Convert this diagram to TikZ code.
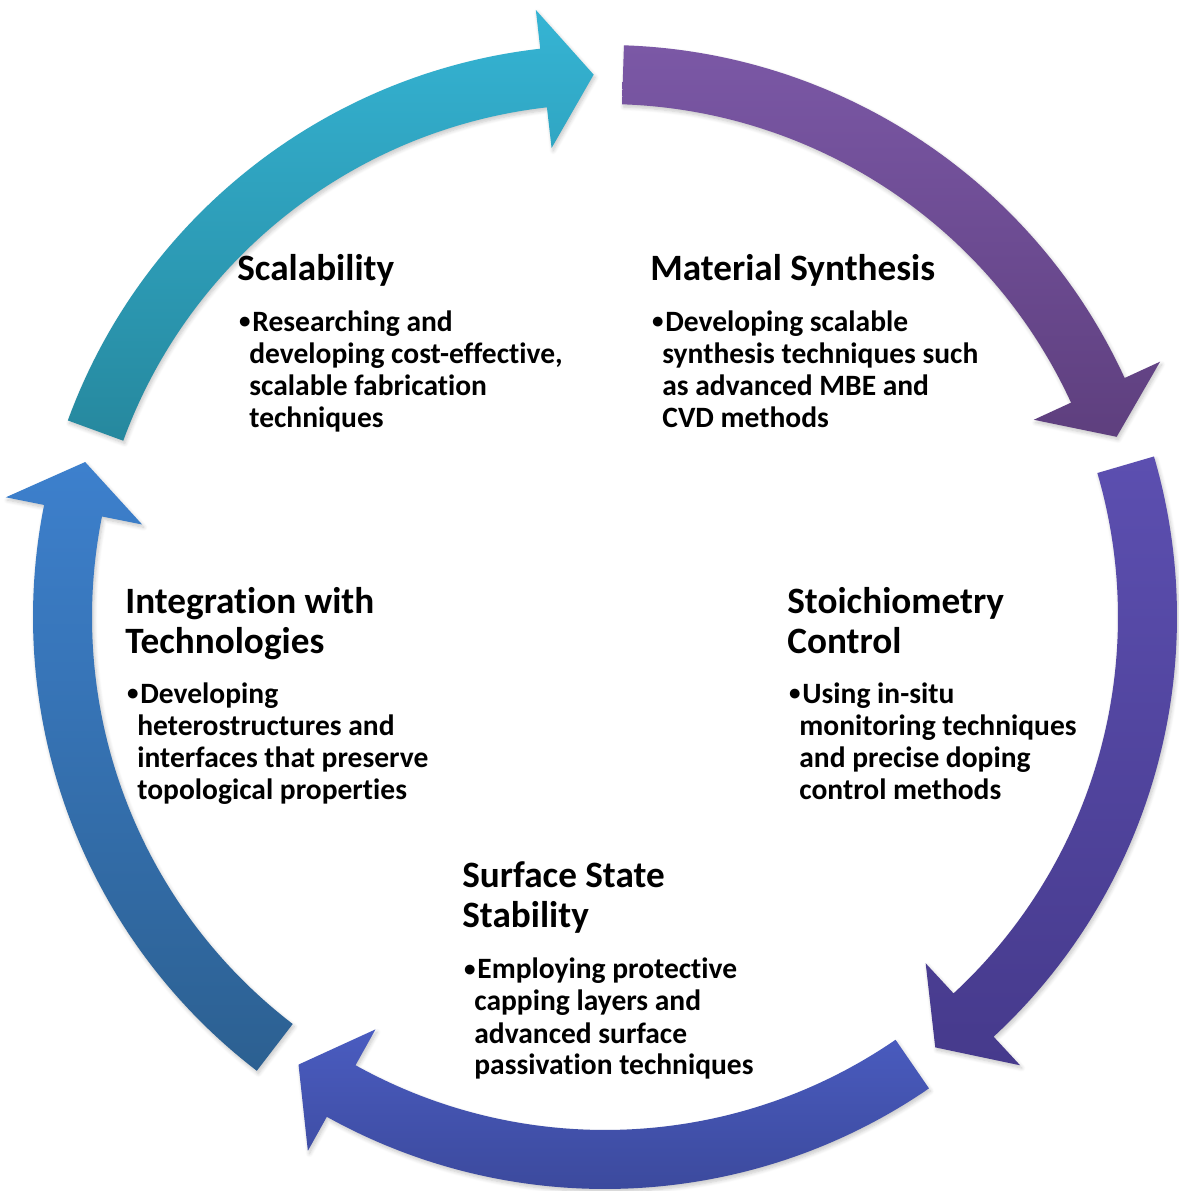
\documentclass[tikz,border=0pt]{standalone}
\usepackage{fontspec}
\usepackage{graphicx}
\setmainfont[RawFeature={-liga}]{Carlito}
\usetikzlibrary{shadows.blur}

% gradient colours of the five ring segments (top / bottom)
\definecolor{cyanT}{RGB}{53,180,212}
\definecolor{cyanB}{RGB}{38,136,158}
\definecolor{purpT}{RGB}{123,88,166}
\definecolor{purpB}{RGB}{94,63,126}
\definecolor{violT}{RGB}{92,79,176}
\definecolor{violB}{RGB}{70,58,140}
\definecolor{indiT}{RGB}{74,92,192}
\definecolor{indiB}{RGB}{57,70,150}
\definecolor{blueT}{RGB}{61,128,205}
\definecolor{blueB}{RGB}{44,96,145}

\tikzset{
  segment/.style={blur shadow={shadow xshift=0.8pt,shadow yshift=-1.4pt,
      shadow blur steps=6,shadow opacity=22}},
  headline/.style={anchor=base west,inner sep=0pt},
  bodytext/.style={anchor=base west,inner sep=0pt},
}

% curved arrow of the ring: #1 tail angle, #2 tip angle, #3/#4 top/bottom colour
\newcommand\ringarrow[4]{%
  \path[segment,top color=#3,bottom color=#4]
    (#1:572) arc[start angle=#1,end angle={#2+5.3},radius=572]
    -- ({#2+5.3}:611) -- (#2:542.5) -- ({#2+5.3}:472)
    -- ({#2+5.3}:513) arc[start angle={#2+5.3},end angle=#1,radius=513]
    -- cycle;}

\newcommand\hd[1]{\parbox[t]{300pt}{\bfseries\fontsize{18.6}{20}\selectfont #1}}
\newcommand\bd[1]{\parbox[t]{300pt}{\bfseries\fontsize{14.75}{16}\selectfont #1}}
\newcommand\ind{\hspace*{5.5pt}}
\newcommand\bul{\makebox[7pt][l]{\hspace*{0.3pt}\raisebox{1.5pt}{\scalebox{0.78}{\textbullet}}}}

\begin{document}
\begin{tikzpicture}[x=0.5pt,y=0.5pt]
\useasboundingbox (0,0) rectangle (1179,1191);

\begin{scope}[shift={(605,574)}]
  \ringarrow{159.9}{91.2}{cyanT}{cyanB}
  \ringarrow{88.1}{19.4}{purpT}{purpB}
  \ringarrow{16.3}{-52.5}{violT}{violB}
  \ringarrow{-55.5}{-124.4}{indiT}{indiB}
  \ringarrow{-127.5}{-196.6}{blueT}{blueB}
\end{scope}

% Scalability
\node[headline] (t1) at (237,910) {\hd{Scalability}};
\node[bodytext] (b1) at (238,859) {\bd{\bul Researching and\\
  \ind developing cost-effective,\\ \ind scalable fabrication\\ \ind techniques}};

% Material Synthesis
\node[headline] (t2) at (650,910) {\hd{Material Synthesis}};
\node[bodytext] (b2) at (651,859) {\bd{\bul Developing scalable\\
  \ind synthesis techniques such\\ \ind as advanced MBE and\\ \ind CVD methods}};

% Stoichiometry Control
\node[headline] (t3) at (787,577) {\hd{Stoichiometry\\ Control}};
\node[bodytext] (b3) at (788,487) {\bd{\bul Using in-situ\\
  \ind monitoring techniques\\ \ind and precise doping\\ \ind control methods}};

% Surface State Stability
\node[headline] (t4) at (462,303) {\hd{Surface State\\ Stability}};
\node[bodytext] (b4) at (463,212) {\bd{\bul Employing protective\\
  \ind capping layers and\\ \ind advanced surface\\ \ind passivation techniques}};

% Integration with Technologies
\node[headline] (t5) at (125,577) {\hd{Integration with\\ Technologies}};
\node[bodytext] (b5) at (126,487) {\bd{\bul Developing\\
  \ind heterostructures and\\ \ind interfaces that preserve\\ \ind topological properties}};
\end{tikzpicture}
\end{document}
